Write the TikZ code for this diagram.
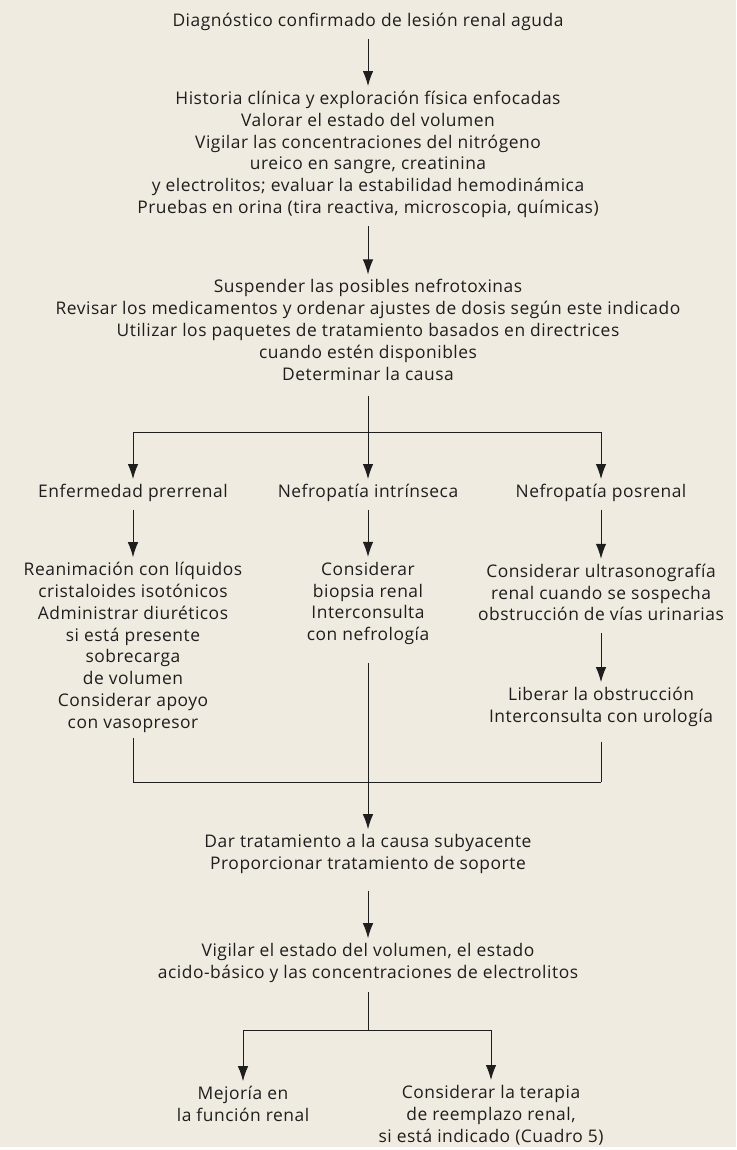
\documentclass[tikz,border=0pt]{standalone}
\usepackage{fontspec}
\setmainfont[LetterSpace=3]{Open Sans}
\usetikzlibrary{arrows.meta}
\definecolor{paper}{RGB}{240,235,224}
\definecolor{ink}{RGB}{30,30,30}
\tikzset{
  txt/.style={align=center, inner sep=0pt, text=ink, font=\fontsize{17.4}{21.8}\selectfont},
  flow/.style={draw=ink, line width=1pt, -{Latex[length=15pt,width=10.5pt]}, shorten <=8pt, shorten >=5pt},
  drop/.style={draw=ink, line width=1pt, -{Latex[length=15pt,width=10.5pt]}, shorten >=5pt},
  link/.style={draw=ink, line width=1pt}
}
\begin{document}
\begin{tikzpicture}[x=1pt,y=-1pt]
    \fill[paper] (0,0) rectangle (736,1150);
    \fill[white] (0,1147) rectangle (736,1150);
    \useasboundingbox (0,0) rectangle (736,1150);

    % main column
    \node[txt] (diag) at (368,22) {Diagnóstico confirmado de lesión renal aguda};
    \node[txt] (eval) at (368,154.5) {Historia clínica y exploración física enfocadas\\
        Valorar el estado del volumen\\
        Vigilar las concentraciones del nitrógeno\\
        ureico en sangre, creatinina\\
        y electrolitos; evaluar la estabilidad hemodinámica\\
        Pruebas en orina (tira reactiva, microscopia, químicas)};
    \node[txt] (cause) at (368,330) {Suspender las posibles nefrotoxinas\\
        Revisar los medicamentos y ordenar ajustes de dosis según este indicado\\
        Utilizar los paquetes de tratamiento basados en directrices\\
        cuando estén disponibles\\
        Determinar la causa};

    \coordinate (split) at (368,432);

    % three branches
    \node[txt] (pre) at (133,493) {Enfermedad prerrenal};
    \node[txt] (intr) at (368,493) {Nefropatía intrínseca};
    \node[txt] (post) at (601,493) {Nefropatía posrenal};

    \node[txt] (preT) at (133,647.5) {Reanimación con líquidos\\
        cristaloides isotónicos\\
        Administrar diuréticos\\
        si está presente\\
        sobrecarga\\
        de volumen\\
        Considerar apoyo\\
        con vasopresor};
    \node[txt] (intrT) at (368,603.5) {Considerar\\
        biopsia renal\\
        Interconsulta\\
        con nefrología};
    \node[txt] (postT) at (601,592.5) {Considerar ultrasonografía\\
        renal cuando se sospecha\\
        obstrucción de vías urinarias};
    \node[txt] (relief) at (601,707) {Liberar la obstrucción\\
        Interconsulta con urología};

    \coordinate (join) at (368,782);

    \node[txt] (treat) at (368,854) {Dar tratamiento a la causa subyacente\\
        Proporcionar tratamiento de soporte};
    \node[txt] (watch) at (368,963) {Vigilar el estado del volumen, el estado\\
        acido-básico y las concentraciones de electrolitos};

    \coordinate (fork) at (368,1030);

    \node[txt] (better) at (243,1104) {Mejoría en\\
        la función renal};
    \node[txt] (rrt) at (491,1115) {Considerar la terapia\\
        de reemplazo renal,\\
        si está indicado (Cuadro 5)};

    % connectors
    \draw[flow] (diag) -- (eval);
    \draw[flow] (eval) -- (cause);
    \draw[link, shorten <=15pt] (cause) -- (split);
    \draw[link] (split -| pre) -- (split -| post);
    \draw[drop] (split -| pre) -- (pre);
    \draw[drop] (split) -- (intr);
    \draw[drop] (split -| post) -- (post);

    \draw[flow] (pre) -- (preT);
    \draw[flow] (intr) -- (intrT);
    \draw[flow] (post) -- (postT);
    \draw[flow, shorten <=12pt] (postT) -- (relief);

    \draw[link, shorten <=5pt] (preT) -- (join -| preT);
    \draw[link, shorten <=15pt] (relief) -- (join -| relief);
    \draw[link] (join -| preT) -- (join -| relief);
    \draw[flow, shorten <=18pt] (intrT) -- (treat);

    \draw[flow, shorten <=17pt] (treat) -- (watch);
    \draw[link, shorten <=9pt] (watch) -- (fork);
    \draw[link] (fork -| better) -- (fork -| rrt);
    \draw[drop] (fork -| better) -- (better);
    \draw[drop] (fork -| rrt) -- (rrt);
\end{tikzpicture}
\end{document}
